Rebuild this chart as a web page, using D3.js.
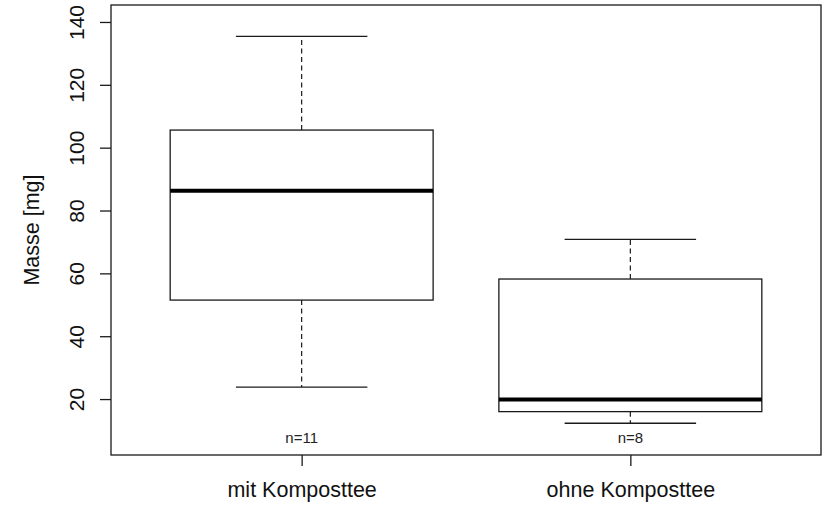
<!DOCTYPE html>
<html>
<head>
<meta charset="utf-8">
<script src="https://cdn.jsdelivr.net/npm/d3@7"></script>
<style>
  html, body { margin: 0; padding: 0; background: #fff; }
  svg { display: block; font-family: "Liberation Sans", Arial, sans-serif; }
</style>
</head>
<body>
<script>
const categories = ["mit Komposttee", "ohne Komposttee"];
const lowerWhisker = [23.8, 12.3];
const q1 = [51.5, 16.0];
const median = [86.3, 19.9];
const q3 = [105.6, 58.2];
const upperWhisker = [135.4, 70.8];
const counts = [11, 8];
const yTicks = [20, 40, 60, 80, 100, 120, 140];
const yLabel = "Masse [mg]";

const W = 825, H = 505;
const plot = { left: 111, right: 821, top: 5, bottom: 455 };

const svg = d3.select("body").append("svg").attr("width", W).attr("height", H);

const x = d3.scaleLinear().domain([0.42, 2.58]).range([plot.left, plot.right]);
const y = d3.scaleLinear().domain([2.2, 145.4]).range([plot.bottom, plot.top]);

const ink = "#1a1a1a";
const boxHalf = 0.4, capHalf = 0.2;

const data = categories.map((c, i) => ({
  c, pos: i + 1, lo: lowerWhisker[i], q1: q1[i], med: median[i], q3: q3[i], hi: upperWhisker[i], n: counts[i]
}));

const g = svg.append("g");
data.forEach(d => {
  const gg = g.append("g");
  gg.append("line").attr("x1", x(d.pos)).attr("x2", x(d.pos)).attr("y1", y(d.q3)).attr("y2", y(d.hi))
    .attr("stroke", ink).attr("stroke-width", 1.2).attr("stroke-dasharray", "5,3.5");
  gg.append("line").attr("x1", x(d.pos)).attr("x2", x(d.pos)).attr("y1", y(d.q1)).attr("y2", y(d.lo))
    .attr("stroke", ink).attr("stroke-width", 1.2).attr("stroke-dasharray", "5,3.5");
  [d.lo, d.hi].forEach(v => {
    gg.append("line").attr("x1", x(d.pos - capHalf)).attr("x2", x(d.pos + capHalf))
      .attr("y1", y(v)).attr("y2", y(v)).attr("stroke", ink).attr("stroke-width", 1.3);
  });
  gg.append("rect").attr("x", x(d.pos - boxHalf)).attr("width", x(d.pos + boxHalf) - x(d.pos - boxHalf))
    .attr("y", y(d.q3)).attr("height", y(d.q1) - y(d.q3))
    .attr("fill", "#fff").attr("stroke", ink).attr("stroke-width", 1.3);
  gg.append("line").attr("x1", x(d.pos - boxHalf)).attr("x2", x(d.pos + boxHalf))
    .attr("y1", y(d.med)).attr("y2", y(d.med)).attr("stroke", "#000").attr("stroke-width", 4);
  gg.append("text").attr("x", x(d.pos)).attr("y", 443).attr("text-anchor", "middle")
    .attr("font-size", 15).attr("fill", "#222").text("n=" + d.n);
});

svg.append("rect").attr("x", plot.left).attr("y", plot.top)
  .attr("width", plot.right - plot.left).attr("height", plot.bottom - plot.top)
  .attr("fill", "none").attr("stroke", ink).attr("stroke-width", 1.3);

const yAxis = svg.append("g").attr("transform", `translate(${plot.left},0)`)
  .call(d3.axisLeft(y).tickValues(yTicks).tickSize(11).tickFormat(d3.format("d")));
yAxis.select(".domain").remove();
yAxis.selectAll(".tick line").attr("stroke", ink).attr("stroke-width", 1.3);
yAxis.selectAll(".tick text")
  .attr("font-size", 21).attr("fill", "#111").attr("font-family", "Liberation Sans, Arial, sans-serif")
  .attr("text-anchor", "middle").attr("dy", null).attr("x", null)
  .attr("transform", "translate(-27,0) rotate(-90)");

const xAxis = svg.append("g").attr("transform", `translate(0,${plot.bottom})`)
  .call(d3.axisBottom(x).tickValues([1, 2]).tickSize(11).tickFormat(d => categories[d - 1]));
xAxis.select(".domain").remove();
xAxis.selectAll(".tick line").attr("stroke", ink).attr("stroke-width", 1.3);
xAxis.selectAll(".tick text")
  .attr("font-size", 21.5).attr("fill", "#111").attr("font-family", "Liberation Sans, Arial, sans-serif")
  .attr("dy", null).attr("y", 42);

svg.append("text").attr("transform", `translate(39,${(plot.top + plot.bottom) / 2}) rotate(-90)`)
  .attr("text-anchor", "middle").attr("font-size", 21.5).attr("fill", "#111").text(yLabel);
</script>
</body>
</html>
